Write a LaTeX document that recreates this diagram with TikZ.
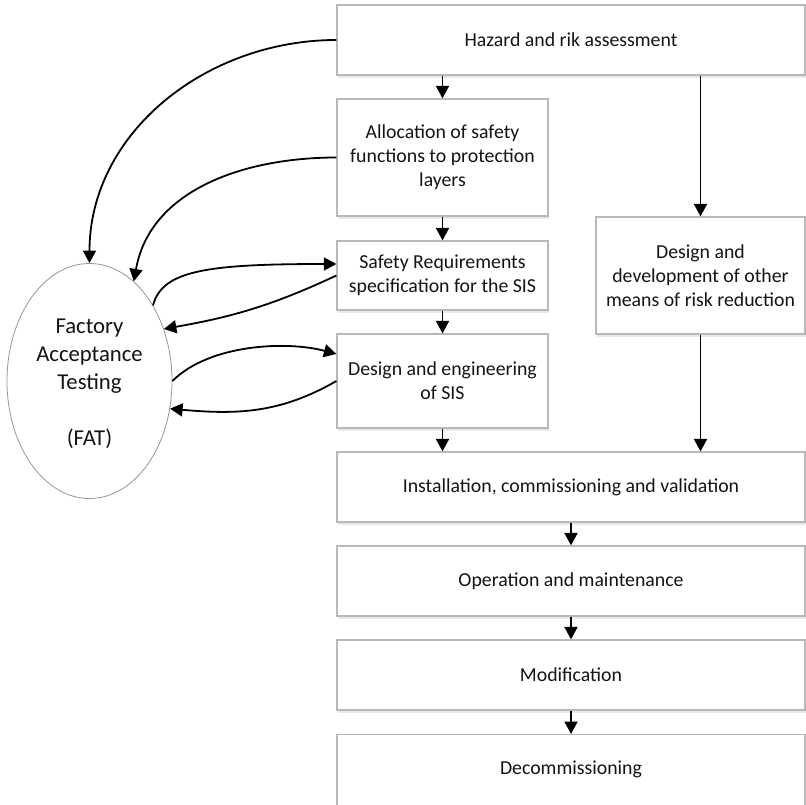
\documentclass[tikz,border=0pt]{standalone}
\usepackage{fontspec}
\setmainfont{Carlito}
\usetikzlibrary{arrows.meta,shapes.geometric,shadows}
\definecolor{boxline}{RGB}{184,184,184}
\definecolor{ovalline}{RGB}{150,150,150}
\definecolor{shade}{RGB}{224,233,244}
\definecolor{ink}{RGB}{20,20,20}
\begin{document}
\begin{tikzpicture}[x=1pt,y=1pt,
  stage/.style={rectangle, draw=boxline, line width=1.2pt, fill=white,
    inner sep=0pt, align=center, text=ink,
    font=\fontsize{19.8}{24}\selectfont,
    drop shadow={shadow xshift=1pt, shadow yshift=-3pt, fill=shade, opacity=1}},
  caption/.style={inner sep=0pt, align=center, text=ink,
    font=\fontsize{19.8}{24}\selectfont},
  oval/.style={ellipse, draw=ovalline, line width=0.8pt, fill=white,
    inner sep=0pt, minimum width=165pt, minimum height=235pt},
  ovaltext/.style={inner sep=0pt, align=center, text=ink,
    font=\fontsize{22.7}{28}\selectfont},
  flow/.style={draw=black, line width=1.8pt,
    -{Triangle[length=12.5pt,width=13pt]}}
]
\useasboundingbox (0,0) rectangle (806,-804);
\clip (0,0) rectangle (806,-804);

% life-cycle stages
\node[stage, minimum width=468pt, minimum height=70pt]  (haz)   at (571,-40)    {Hazard and rik assessment};
\node[stage, minimum width=211pt, minimum height=117pt] (alloc) at (442.5,-157.5) {Allocation of safety\\functions to protection\\layers};
\node[stage, minimum width=211pt, minimum height=69pt]  (sreq)  at (442.5,-275.5) {Safety Requirements\\specification for the SIS};
\node[stage, minimum width=211pt, minimum height=94pt]  (deng)  at (442.5,-381)   {Design and engineering\\of SIS};
\node[stage, minimum width=209pt, minimum height=117pt] (other) at (700.5,-275.5) {Design and\\development of other\\means of risk reduction};
\node[stage, minimum width=468pt, minimum height=70pt]  (inst)  at (571,-487)    {Installation, commissioning and validation};
\node[stage, minimum width=468pt, minimum height=70pt]  (oper)  at (571,-581)    {Operation and maintenance};
\node[stage, minimum width=468pt, minimum height=70pt]  (modi)  at (571,-675)    {Modification};
\node[stage, minimum width=468pt, minimum height=90pt, anchor=north] (deco) at (571,-734) {};
\node[caption] (decotext) at (571,-769) {Decommissioning};

% factory acceptance testing
\node[oval] (fat) at (89.5,-381) {};
\node[ovaltext] (fattext) at (89.5,-384) {Factory\\Acceptance\\Testing\\[28pt](FAT)};

% main flow
\draw[flow] (alloc.north |- haz.south) -- (alloc.north);
\draw[flow] (other.north |- haz.south) -- (other.north);
\draw[flow] (alloc.south) -- (sreq.north);
\draw[flow] (sreq.south) -- (deng.north);
\draw[flow] (deng.south) -- (deng.south |- inst.north);
\draw[flow] (other.south) -- (other.south |- inst.north);
\draw[flow] (inst.south) -- (oper.north);
\draw[flow] (oper.south) -- (modi.north);
\draw[flow] (modi.south) -- (deco.north);

% links with FAT
\draw[flow] (haz.west) to[out=180, in=90] (fat.north);
\draw[flow] (alloc.west) to[out=180, in=80] (fat.66);
\draw[flow] (fat.50) to[out=75, in=180, out distance=36pt, in distance=130pt] ([yshift=11.5pt]sreq.west);
\draw[flow] (sreq.west) to[out=205, in=10] (fat.35);
\draw[flow] (fat.east) to[out=45, in=165, looseness=0.8] ([yshift=27pt]deng.west);
\draw[flow] (deng.west) to[out=210, in=-5] (fat.-19);
\end{tikzpicture}
\end{document}
